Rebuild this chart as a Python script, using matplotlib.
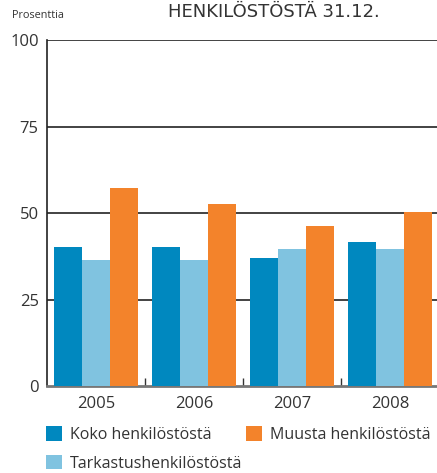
import numpy as np
import matplotlib
matplotlib.use('Agg')
import matplotlib.pyplot as plt

plt.rcParams['font.family'] = ['Open Sans', 'DejaVu Sans']

# ── DATA ─────────────────────────────────────
years = ['2005', '2006', '2007', '2008']
koko = [40.2, 40.2, 37.0, 41.6]
tarkastus = [36.4, 36.4, 39.6, 39.6]
muusta = [57.2, 52.6, 46.2, 50.3]
series_names = ['Koko henkilöstöstä', 'Tarkastushenkilöstöstä', 'Muusta henkilöstöstä']
yticks = [0, 25, 50, 75, 100]

c_dark = '#0088bf'
c_light = '#80c3e0'
c_orange = '#f3832b'
txt = '#333333'

fig = plt.figure(figsize=(4.37, 4.73), dpi=100)
ax = fig.add_axes([47/437, 87/473, 1 - 47/437, 346/473])

x = np.arange(len(years))
w = 0.285
b1 = ax.bar(x - w, koko, w, color=c_dark, zorder=3)
b2 = ax.bar(x, tarkastus, w, color=c_light, zorder=3)
b3 = ax.bar(x + w, muusta, w, color=c_orange, zorder=3)

ax.set_xlim(-0.5, 3.48)
ax.set_ylim(0, 100)
ax.set_yticks(yticks)
ax.set_yticklabels([str(v) for v in yticks], fontsize=12, color=txt)
ax.set_xticks(x)
ax.set_xticklabels(years, fontsize=12, color=txt)
ax.tick_params(axis='y', length=0, pad=6)
ax.tick_params(axis='x', length=0, pad=7)
ax.set_xticks(x[:-1] + 0.5, minor=True)
ax.tick_params(axis='x', which='minor', direction='in', length=6, width=1, color='#333333')

for v in yticks[1:]:
    ax.axhline(v, color='#222222', lw=1.2, zorder=2)

for s in ['top', 'right']:
    ax.spines[s].set_visible(False)
ax.spines['left'].set_color('#222222')
ax.spines['left'].set_linewidth(1.2)
ax.spines['bottom'].set_color('#777777')
ax.spines['bottom'].set_linewidth(2)

fig.text(12/437, 1 - 15/473, 'Prosenttia', fontsize=7.8, color=txt, va='center')
fig.text(168/437, 1 - 12/473, 'HENKILÖSTÖSTÄ 31.12.', fontsize=13, color=txt,
         va='center', family='DejaVu Sans')

fig.legend([b1, b2, b3], series_names, ncol=2, loc='upper left',
           bbox_to_anchor=(40/437, 1 - 420/473), frameon=False, fontsize=11.5,
           handlelength=1.0, handleheight=1.0, handletextpad=0.5, columnspacing=0.2,
           labelspacing=0.75, labelcolor=txt, borderaxespad=0)

fig.savefig('out.png', dpi=100)
